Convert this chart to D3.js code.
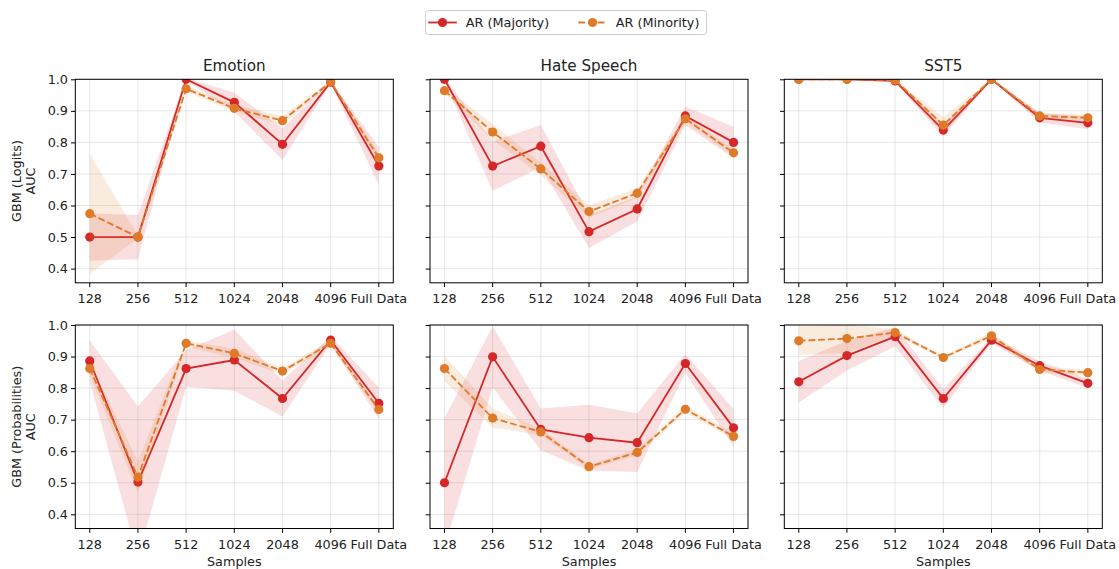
<!DOCTYPE html>
<html>
<head>
<meta charset="utf-8">
<script src="https://cdn.jsdelivr.net/npm/d3@7"></script>
<style>
  html, body { margin: 0; padding: 0; background: #fff; }
  svg { display: block; font-family: "DejaVu Sans", sans-serif; }
</style>
</head>
<body>
<svg id="chart" width="1119" height="569"></svg>
<script>
// Sample-size categories on the x axis
const samples = ["128", "256", "512", "1024", "2048", "4096", "Full Data"];
const yTicks = [0.4, 0.5, 0.6, 0.7, 0.8, 0.9, 1.0];
const datasets = ["Emotion", "Hate Speech", "SST5"];
const models = ["GBM (Logits)", "GBM (Probabilities)"];
const seriesNames = ["AR (Majority)", "AR (Minority)"];

// GBM on logits: mean AUC and spread, per dataset
const emotionLogitsMaj    = [0.500, 0.500, 1.000, 0.927, 0.794, 0.991, 0.725];
const emotionLogitsMajSd  = [0.075, 0.070, 0.005, 0.030, 0.050, 0.005, 0.060];
const emotionLogitsMin    = [0.574, 0.500, 0.970, 0.908, 0.869, 0.992, 0.751];
const emotionLogitsMinSd  = [0.190, 0.005, 0.010, 0.010, 0.015, 0.005, 0.015];

const hateLogitsMaj       = [1.000, 0.725, 0.788, 0.517, 0.589, 0.884, 0.800];
const hateLogitsMajSd     = [0.005, 0.078, 0.067, 0.052, 0.040, 0.030, 0.050];
const hateLogitsMin       = [0.964, 0.833, 0.716, 0.581, 0.639, 0.875, 0.767];
const hateLogitsMinSd     = [0.010, 0.025, 0.020, 0.020, 0.015, 0.010, 0.010];

const sst5LogitsMaj       = [1.000, 1.000, 0.995, 0.839, 1.000, 0.878, 0.862];
const sst5LogitsMajSd     = [0.000, 0.000, 0.005, 0.020, 0.003, 0.015, 0.020];
const sst5LogitsMin       = [1.000, 1.000, 0.997, 0.855, 1.000, 0.884, 0.878];
const sst5LogitsMinSd     = [0.000, 0.000, 0.003, 0.025, 0.002, 0.010, 0.010];

// GBM on probabilities: mean AUC and spread, per dataset
const emotionProbsMaj     = [0.886, 0.502, 0.862, 0.889, 0.767, 0.952, 0.752];
const emotionProbsMajSd   = [0.065, 0.240, 0.058, 0.097, 0.057, 0.012, 0.050];
const emotionProbsMin     = [0.862, 0.518, 0.942, 0.910, 0.854, 0.942, 0.732];
const emotionProbsMinSd   = [0.020, 0.050, 0.010, 0.015, 0.010, 0.010, 0.010];

const hateProbsMaj        = [0.500, 0.899, 0.669, 0.643, 0.627, 0.878, 0.674];
const hateProbsMajSd      = [0.205, 0.097, 0.066, 0.104, 0.093, 0.030, 0.060];
const hateProbsMin        = [0.862, 0.705, 0.661, 0.551, 0.596, 0.733, 0.647];
const hateProbsMinSd      = [0.040, 0.030, 0.010, 0.008, 0.010, 0.010, 0.010];

const sst5ProbsMaj        = [0.820, 0.903, 0.963, 0.767, 0.952, 0.871, 0.815];
const sst5ProbsMajSd      = [0.066, 0.047, 0.030, 0.030, 0.010, 0.015, 0.015];
const sst5ProbsMin        = [0.950, 0.957, 0.976, 0.897, 0.966, 0.859, 0.849];
const sst5ProbsMinSd      = [0.045, 0.045, 0.010, 0.005, 0.010, 0.010, 0.008];

// Panel grid: rows = model, columns = dataset
const panels = [
  [
    {maj: emotionLogitsMaj, majSd: emotionLogitsMajSd, min: emotionLogitsMin, minSd: emotionLogitsMinSd},
    {maj: hateLogitsMaj, majSd: hateLogitsMajSd, min: hateLogitsMin, minSd: hateLogitsMinSd},
    {maj: sst5LogitsMaj, majSd: sst5LogitsMajSd, min: sst5LogitsMin, minSd: sst5LogitsMinSd}
  ],
  [
    {maj: emotionProbsMaj, majSd: emotionProbsMajSd, min: emotionProbsMin, minSd: emotionProbsMinSd},
    {maj: hateProbsMaj, majSd: hateProbsMajSd, min: hateProbsMin, minSd: hateProbsMinSd},
    {maj: sst5ProbsMaj, majSd: sst5ProbsMajSd, min: sst5ProbsMin, minSd: sst5ProbsMinSd}
  ]
];

const colMaj = "#d62728";
const colMin = "#df7a29";

const colLeft = [75.3, 430.0, 784.3];
const colWidth = 318;
const rowTop = [79.3, 325.0];
const rowHeight = 203.5;
const yDomain = [0.355, 1.0];

const svg = d3.select("#chart");
svg.append("rect").attr("width", 1119).attr("height", 569).attr("fill", "#fff");

const tickFont = 12.8;

panels.forEach((row, r) => {
  row.forEach((p, c) => {
    const x0 = colLeft[c], y0 = rowTop[r];
    const x = d3.scalePoint().domain(samples).range([0, colWidth]);
    // categories sit at 0..6 inside [-0.3, 6.3] (5% margins)
    const xi = d3.scaleLinear().domain([-0.3, samples.length - 1 + 0.3]).range([0, colWidth]);
    const xPos = s => xi(samples.indexOf(s));
    const y = d3.scaleLinear().domain(yDomain).range([rowHeight, 0]);

    const g = svg.append("g").attr("transform", `translate(${x0},${y0})`);
    const clipId = `clip-${r}-${c}`;
    g.append("clipPath").attr("id", clipId)
      .append("rect").attr("width", colWidth).attr("height", rowHeight);

    // grid
    const grid = g.append("g").attr("stroke", "#b0b0b0").attr("stroke-opacity", 0.3).attr("stroke-width", 1);
    samples.forEach(s => grid.append("line")
      .attr("x1", xPos(s)).attr("x2", xPos(s)).attr("y1", 0).attr("y2", rowHeight));
    yTicks.forEach(t => grid.append("line")
      .attr("x1", 0).attr("x2", colWidth).attr("y1", y(t)).attr("y2", y(t)));

    const plot = g.append("g").attr("clip-path", `url(#${clipId})`);

    const drawSeries = (vals, sds, color, dashed, bandOpacity) => {
      const pts = samples.map((s, i) => ({s, v: vals[i], sd: sds[i]}));
      const area = d3.area()
        .x(d => xPos(d.s))
        .y0(d => y(d.v - d.sd))
        .y1(d => y(d.v + d.sd));
      plot.append("path").datum(pts).attr("d", area)
        .attr("fill", color).attr("fill-opacity", bandOpacity).attr("stroke", "none");
      const line = d3.line().x(d => xPos(d.s)).y(d => y(d.v));
      plot.append("path").datum(pts).attr("d", line)
        .attr("fill", "none").attr("stroke", color).attr("stroke-width", 1.8)
        .attr("stroke-dasharray", dashed ? "6.8,2.9" : null);
      plot.selectAll(null).data(pts).enter().append("circle")
        .attr("cx", d => xPos(d.s)).attr("cy", d => y(d.v)).attr("r", 4.6)
        .attr("fill", color);
    };
    drawSeries(p.maj, p.majSd, colMaj, false, 0.15);
    drawSeries(p.min, p.minSd, colMin, true, 0.15);

    // spines
    g.append("rect").attr("width", colWidth).attr("height", rowHeight)
      .attr("fill", "none").attr("stroke", "#000").attr("stroke-width", 1);

    // y axis ticks
    const yAxis = d3.axisLeft(y).tickValues(yTicks).tickSize(4.3).tickPadding(3)
      .tickFormat(c === 0 ? d3.format(".1f") : () => "");
    const ya = g.append("g").call(yAxis);
    ya.select(".domain").remove();
    ya.selectAll("line").attr("stroke", "#000");
    ya.selectAll("text").attr("font-size", tickFont).attr("fill", "#222")
      .attr("font-family", "DejaVu Sans, sans-serif");

    // x axis ticks
    const xAxis = d3.axisBottom(x).tickSize(4.3).tickPadding(4);
    const xa = g.append("g").attr("transform", `translate(0,${rowHeight})`).call(xAxis);
    xa.select(".domain").remove();
    xa.selectAll(".tick").attr("transform", d => `translate(${xPos(d)},0)`);
    xa.selectAll("line").attr("stroke", "#000");
    xa.selectAll("text").attr("font-size", tickFont).attr("fill", "#222")
      .attr("font-family", "DejaVu Sans, sans-serif").attr("dy", "0.92em");

    if (r === 0) {
      g.append("text").attr("x", colWidth / 2).attr("y", -8)
        .attr("text-anchor", "middle").attr("font-size", 15.2).attr("fill", "#222")
        .text(datasets[c]);
    }
    if (r === 1) {
      g.append("text").attr("x", colWidth / 2).attr("y", rowHeight + 37)
        .attr("text-anchor", "middle").attr("font-size", tickFont).attr("fill", "#222")
        .text("Samples");
    }
    if (c === 0) {
      const cy = rowHeight / 2;
      const lab = g.append("text").attr("transform", `translate(${-54.5},${cy}) rotate(-90)`)
        .attr("text-anchor", "middle").attr("font-size", tickFont).attr("fill", "#222");
      lab.append("tspan").attr("x", 0).attr("y", 0).text(models[r]);
      lab.append("tspan").attr("x", 0).attr("y", 14.5).text("AUC");
    }
  });
});

// legend
const legend = svg.append("g");
legend.append("rect").attr("x", 425.5).attr("y", 10.5).attr("width", 281).attr("height", 24)
  .attr("rx", 3).attr("fill", "#fff").attr("fill-opacity", 0.8)
  .attr("stroke", "#d0d0d0").attr("stroke-width", 1);
const legendItems = [
  {name: seriesNames[0], color: colMaj, dashed: false, x: 428.3},
  {name: seriesNames[1], color: colMin, dashed: true, x: 578.3}
];
legendItems.forEach(it => {
  legend.append("line").attr("x1", it.x).attr("x2", it.x + 28.5).attr("y1", 22.5).attr("y2", 22.5)
    .attr("stroke", it.color).attr("stroke-width", 1.8)
    .attr("stroke-dasharray", it.dashed ? "6.8,2.9" : null);
  legend.append("circle").attr("cx", it.x + 14.2).attr("cy", 22.5).attr("r", 4.6).attr("fill", it.color);
  legend.append("text").attr("x", it.x + 37.5).attr("y", 27)
    .attr("font-size", tickFont).attr("fill", "#222").text(it.name);
});
</script>
</body>
</html>
